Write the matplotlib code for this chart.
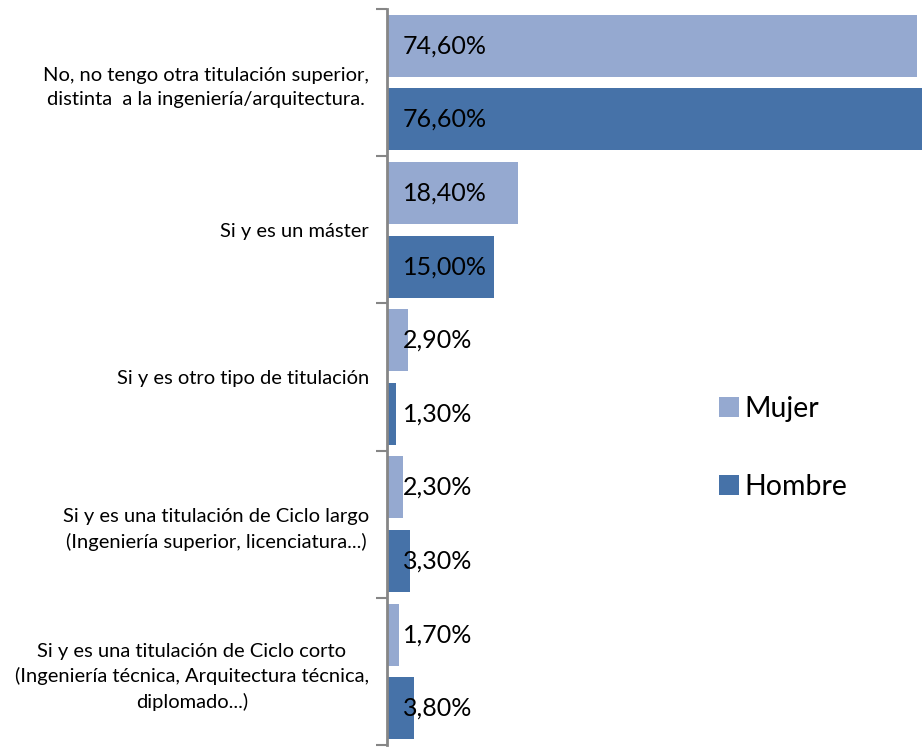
import numpy as np
import matplotlib
matplotlib.use("Agg")
import matplotlib.pyplot as plt
from matplotlib.ticker import FixedLocator, NullFormatter

plt.rcParams["font.family"] = ["Lato", "DejaVu Sans"]

categories = [
    "No, no tengo otra titulación superior,\ndistinta  a la ingeniería/arquitectura.",
    "Si y es un máster",
    "Si y es otro tipo de titulación",
    "Si y es una titulación de Ciclo largo\n(Ingeniería superior, licenciatura...)",
    "Si y es una titulación de Ciclo corto\n(Ingeniería técnica, Arquitectura técnica,\ndiplomado...)",
]
mujer = [74.6, 18.4, 2.9, 2.3, 1.7]
hombre = [76.6, 15.0, 1.3, 3.3, 3.8]
series_names = ["Mujer", "Hombre"]

C_MUJER = "#95a9d0"
C_HOMBRE = "#4672a8"
AXIS = "#868686"

fig = plt.figure(figsize=(9.22, 7.47), dpi=100)
ax = fig.add_axes([387 / 922, 2 / 747, 1 - 387 / 922, 736 / 747])

y = np.arange(len(categories))
h = 0.42
off = 0.25
bm = ax.barh(y - off, mujer, h, color=C_MUJER, label=series_names[0])
bh = ax.barh(y + off, hombre, h, color=C_HOMBRE, label=series_names[1])

ax.set_xlim(0, 75.3)
ax.set_ylim(len(categories) - 0.5, -0.5)

def fmt(v):
    return f"{v:.2f}%".replace(".", ",")

for yy, v in zip(y - off, mujer):
    ax.text(2.25, yy, fmt(v), ha="left", va="center", fontsize=18, color="black")
for yy, v in zip(y + off, hombre):
    ax.text(2.25, yy, fmt(v), ha="left", va="center", fontsize=18, color="black")

# axis styling
for s in ["top", "right", "bottom"]:
    ax.spines[s].set_visible(False)
ax.spines["left"].set_color(AXIS)
ax.spines["left"].set_linewidth(2)
ax.set_xticks([])
ax.yaxis.set_major_locator(FixedLocator(np.arange(-0.5, len(categories), 1.0)))
ax.yaxis.set_major_formatter(NullFormatter())
ax.tick_params(axis="y", which="major", length=8, width=1.5, color=AXIS)
ax.set_yticks(y, minor=True)
ax.set_yticklabels(categories, minor=True, fontsize=14.5, ha="right",
                   multialignment="center", linespacing=1.5)
ax.tick_params(axis="y", which="minor", length=0, pad=13)

fig.legend(handles=[bm, bh], loc="center left",
           bbox_to_anchor=(719 / 922, 1 - 448 / 747), frameon=False,
           fontsize=20.5, handlelength=0.7, handleheight=0.7,
           handletextpad=0.2, labelspacing=1.85, borderpad=0, borderaxespad=0)

fig.savefig("out.png", dpi=100)
